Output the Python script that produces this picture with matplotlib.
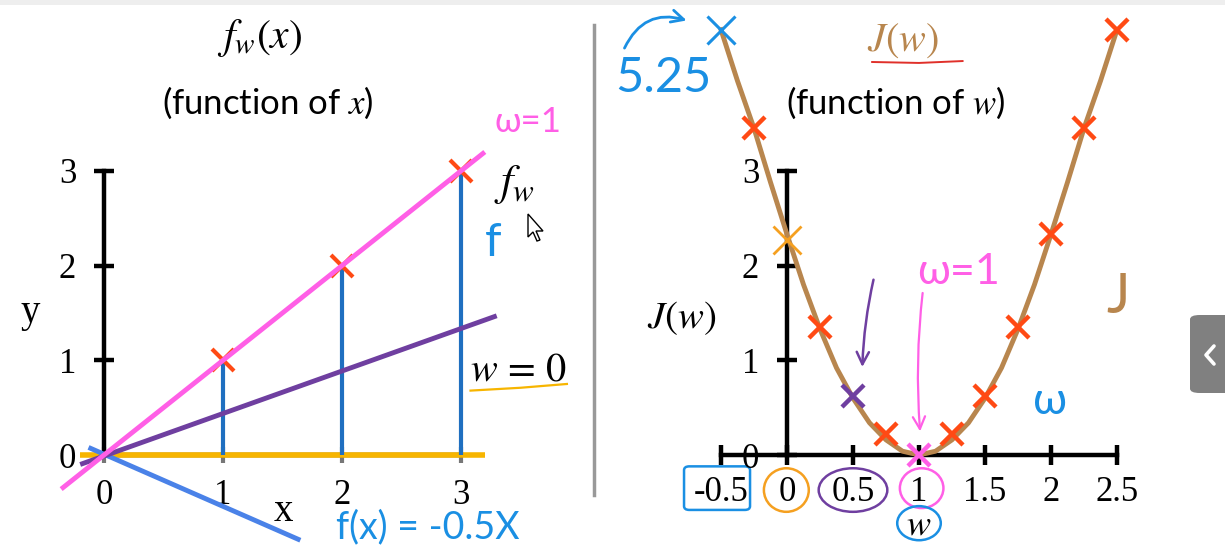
import matplotlib
matplotlib.use("Agg")
import matplotlib.pyplot as plt
from matplotlib.patches import Ellipse, FancyBboxPatch, Rectangle, Polygon
from matplotlib.lines import Line2D

plt.rcParams['mathtext.fontset'] = 'stix'

# ---------------- data ----------------
x_train = [1, 2, 3]
y_train = [1, 2, 3]

# lines drawn on the left panel (x-range, y-values)
w1_x = [-0.36, 3.2]
w1_y = [-0.36, 3.2]
wmid_x = [-0.2, 3.3]
wmid_y = [-0.1, 1.47]
w0_x = [-0.2, 3.2]
w0_y = [0.0, 0.0]
wneg_x = [-0.13, 1.65]
wneg_y = [0.08, -0.9]

left_xticks = [0, 1, 2, 3]
left_yticks = [0, 1, 2, 3]

# cost curve (drawn values)
w_curve = [-0.5, -0.375, -0.25, -0.125, 0, 0.125, 0.25, 0.375, 0.5, 0.625, 0.75, 0.875,
           1, 1.125, 1.25, 1.375, 1.5, 1.625, 1.75, 1.875, 2, 2.125, 2.25, 2.375, 2.5]
J_curve = [4.49, 3.95, 3.45, 2.88, 2.33, 1.80, 1.33, 0.92, 0.60, 0.34, 0.16, 0.04,
           0.0, 0.04, 0.16, 0.34, 0.60, 0.92, 1.33, 1.80, 2.33, 2.88, 3.45, 3.95, 4.49]
w_marks = [-0.25, 0.25, 0.75, 1.25, 1.5, 1.75, 2.0, 2.25, 2.5]
J_marks = [3.45, 1.35, 0.22, 0.22, 0.62, 1.35, 2.33, 3.45, 4.49]
w_blue, J_blue = [-0.5], [4.49]
w_orange, J_orange = [0.0], [2.27]
w_purple, J_purple = [0.5], [0.62]
w_pink, J_pink = [1.0], [0.0]

right_xticks = [-0.5, 0, 0.5, 1, 1.5, 2, 2.5]
right_xticklabels = ['-0.5', '0', '0.5', '1', '1.5', '2', '2.5']
right_yticks = [0, 1, 2, 3]

# ---------------- colours ----------------
PINK = '#ff5fe6'
PURPLE = '#6f3fa0'
ORANGE = '#f7b500'
STEM = '#1f6fc0'
LBLUE = '#4a82e8'
RED = '#ff4a14'
BROWN = '#b8864e'
HBLUE = '#1a8fe3'

W, H = 1225, 545
fig = plt.figure(figsize=(W / 100, H / 100), dpi=100)
fig.patch.set_facecolor('white')

SERIF = 'Liberation Serif'
SANS = 'Lato'
HAND = dict(family='Lato')


def setup(ax, x0px, sx, y0py, sy):
    ax.set_xlim(-x0px / sx, (W - x0px) / sx)
    ax.set_ylim((y0py - H) / sy, y0py / sy)
    ax.patch.set_alpha(0)
    for s in ['top', 'right']:
        ax.spines[s].set_visible(False)
    for s in ['left', 'bottom']:
        ax.spines[s].set_position(('data', 0))
        ax.spines[s].set_linewidth(3.2)
        ax.spines[s].set_color('black')


# ================= LEFT PANEL =================
axL = fig.add_axes([0, 0, 1, 1])
setup(axL, 104, 119.0, 455, 94.7)
axL.spines['left'].set_bounds(0, 3)
axL.spines['bottom'].set_bounds(0, 3)
axL.set_xticks(left_xticks)
axL.set_yticks(left_yticks)
axL.tick_params(axis='y', direction='inout', length=14, width=3.2, pad=13,
                labelsize=25, labelfontfamily=SERIF)
axL.tick_params(axis='x', direction='inout', length=12, width=3, pad=11,
                labelsize=25, labelfontfamily=SERIF, color='#777777')

axL.plot(w0_x, w0_y, color=ORANGE, lw=4, zorder=3, solid_capstyle='butt')
axL.vlines(x_train, 0, y_train, color=STEM, lw=3, zorder=4)
axL.plot(wneg_x, wneg_y, color=LBLUE, lw=3.5, zorder=4, solid_capstyle='butt')
axL.plot(wmid_x, wmid_y, color=PURPLE, lw=3.5, zorder=5, solid_capstyle='butt')
axL.plot(w1_x, w1_y, color=PINK, lw=3.5, zorder=6, solid_capstyle='butt')
axL.plot(x_train, y_train, linestyle='none', marker='x', ms=16, mew=3,
         color=RED, zorder=5)

axL.text(1.31, 4.40, r'$f_w(x)$', fontsize=30, ha='center', va='center')
axL.text(1.38, 3.72, r'(function of $x$)', fontsize=25, family=SANS,
         ha='center', va='center')
axL.text(-0.62, 1.50, 'y', fontsize=28, family=SERIF, ha='center', va='center')
axL.text(1.51, -0.60, 'x', fontsize=28, family=SERIF, ha='center', va='center')
axL.text(3.56, 3.52, 'ω=1', fontsize=25, color=PINK,
         ha='center', va='center', **HAND)
axL.text(3.45, 2.86, r'$f_w$', fontsize=32, ha='center', va='center')
axL.text(3.27, 2.24, 'f', fontsize=34, color=HBLUE,
         ha='center', va='center', **HAND)
axL.text(3.48, 0.90, r'$w\,=\,0$', fontsize=29, ha='center', va='center')
axL.plot([3.08, 3.5, 3.89], [0.68, 0.71, 0.75], color=ORANGE, lw=1.6, zorder=4)
axL.text(2.72, -0.76, 'f(x) = -0.5X', fontsize=27, color=HBLUE,
         ha='center', va='center', **HAND)

# ================= RIGHT PANEL =================
axR = fig.add_axes([0, 0, 1, 1])
setup(axR, 787, 132.0, 455, 94.7)
axR.spines['left'].set_bounds(0, 3)
axR.spines['bottom'].set_bounds(-0.5, 2.5)
axR.set_xticks(right_xticks)
axR.set_xticklabels(right_xticklabels)
axR.set_yticks(right_yticks)
axR.tick_params(axis='both', direction='inout', length=14, width=3.2,
                labelsize=25, labelfontfamily=SERIF)
axR.tick_params(axis='y', pad=13)
axR.tick_params(axis='x', pad=8)

axR.plot(w_curve, J_curve, color=BROWN, lw=3.5, zorder=5)
axR.plot(w_marks, J_marks, linestyle='none', marker='x', ms=16, mew=3.2,
         color=RED, zorder=6)
axR.plot(w_blue, J_blue, linestyle='none', marker='x', ms=20, mew=2.2,
         color=HBLUE, zorder=6)
axR.plot(w_orange, J_orange, linestyle='none', marker='x', ms=20, mew=2,
         color='#f5a020', zorder=6)
axR.plot(w_purple, J_purple, linestyle='none', marker='x', ms=16, mew=3.2,
         color=PURPLE, zorder=6)
axR.plot(w_pink, J_pink, linestyle='none', marker='x', ms=16, mew=3.2,
         color=PINK, zorder=6)

axR.text(0.88, 4.38, r'$J(w)$', fontsize=29, color=BROWN, ha='center', va='center')
axR.plot([0.645, 1.0, 1.33], [4.15, 4.14, 4.16], color='#e0302a', lw=1.4)
axR.text(0.82, 3.72, r'(function of $w$)', fontsize=25, family=SANS,
         ha='center', va='center')
axR.text(-0.80, 1.45, r'$J(w)$', fontsize=28, ha='center', va='center')
axR.text(-0.94, 3.98, '5.25', fontsize=35, color=HBLUE,
         ha='center', va='center', **HAND)
axR.annotate('', xy=(-0.74, 4.58), xytext=(-1.24, 4.27),
             arrowprops=dict(arrowstyle='->', color=HBLUE, lw=2,
                             connectionstyle='arc3,rad=-0.45',
                             mutation_scale=22))
axR.text(1.30, 1.93, 'ω=1', fontsize=31, color=PINK,
         ha='center', va='center', **HAND)
axR.annotate('', xy=(1.01, 0.22), xytext=(1.03, 1.74),
             arrowprops=dict(arrowstyle='->', color=PINK, lw=1.6,
                             connectionstyle='arc3,rad=0.05',
                             mutation_scale=22))
axR.annotate('', xy=(0.57, 0.90), xytext=(0.66, 1.88),
             arrowprops=dict(arrowstyle='->', color=PURPLE, lw=1.8,
                             connectionstyle='arc3,rad=0.05',
                             mutation_scale=22))
axR.text(2.51, 1.66, 'J', fontsize=40, color=BROWN,
         ha='center', va='center', **HAND)
axR.text(1.99, 0.56, 'ω', fontsize=32, color=HBLUE,
         ha='center', va='center', **HAND)

# circled tick labels
axR.add_patch(FancyBboxPatch((-0.78, -0.58), 0.50, 0.46,
                             boxstyle='round,pad=0,rounding_size=0.04',
                             fill=False, ec=HBLUE, lw=1.8, clip_on=False))
axR.add_patch(Ellipse((-0.005, -0.37), 0.34, 0.46, fill=False, ec='#f5a020',
                      lw=1.8, clip_on=False))
axR.add_patch(Ellipse((0.50, -0.37), 0.52, 0.46, fill=False, ec=PURPLE,
                      lw=1.8, clip_on=False))
axR.add_patch(Ellipse((1.02, -0.35), 0.33, 0.42, fill=False, ec=PINK,
                      lw=1.8, clip_on=False))
axR.add_patch(Ellipse((1.0, -0.72), 0.33, 0.36, fill=False, ec=HBLUE,
                      lw=1.8, clip_on=False))
axR.text(1.0, -0.73, r'$w$', fontsize=26, ha='center', va='center')

# ================= decorations =================
fig.add_artist(Line2D([594 / W, 594 / W], [1 - 495 / H, 1 - 25 / H],
                      color='#999999', lw=2.5))
fig.add_artist(Rectangle((0, 1 - 5 / H), 1, 5 / H, color='#eeeeee', lw=0))
fig.add_artist(FancyBboxPatch((1190 / W, 1 - 393 / H), 60 / W, 78 / H,
                              boxstyle='round,pad=0,rounding_size=0.008',
                              fc='#808080', ec='none'))
fig.add_artist(Line2D([1214 / W, 1206 / W, 1214 / W],
                      [1 - 346 / H, 1 - 355 / H, 1 - 364 / H],
                      color='white', lw=2.6, solid_capstyle='round',
                      solid_joinstyle='round'))
cursor = [(0, 0), (0, 23), (5, 18), (9, 27), (12, 26), (8, 17), (15, 17)]
fig.add_artist(Polygon([((528 + a) / W, 1 - (214 + b) / H) for a, b in cursor],
                       closed=True, fc='white', ec='black', lw=1))

fig.savefig('out.png', dpi=100)
